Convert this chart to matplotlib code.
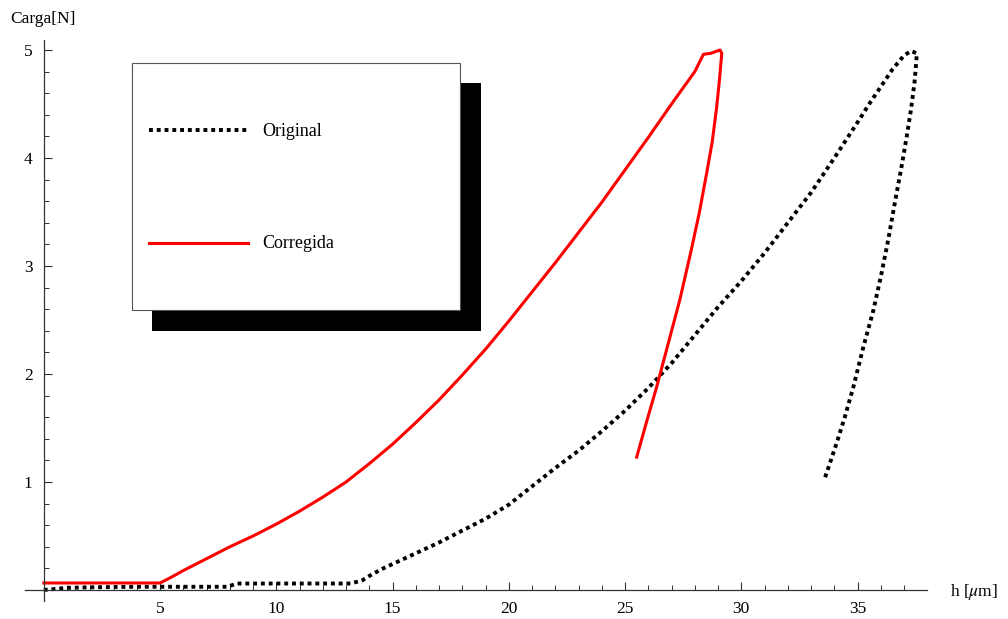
import matplotlib
matplotlib.use("Agg")
import matplotlib.pyplot as plt
from matplotlib.patches import Rectangle
from matplotlib.lines import Line2D
import numpy as np

plt.rcParams['font.family'] = ['Liberation Serif', 'DejaVu Serif']
plt.rcParams['mathtext.fontset'] = 'stix'

# Original (black dotted) - loading then unloading
orig_h = [0, 0.5, 1.0, 2, 4, 6, 7.9, 8.3, 10, 12, 13.2, 13.7, 14.0, 14.5, 15, 16, 17, 18,
          19, 20, 21, 22, 23, 24, 25, 26, 27, 28, 29, 30, 31, 32, 33, 34, 35, 35.5,
          36.0, 36.5, 37.0, 37.3, 37.55,
          37.52, 37.45, 37.3, 37.1, 36.9, 36.6, 36.3, 36.0, 35.68, 35.25, 34.82, 34.45,
          34.1, 33.6]
orig_f = [0.0, 0.01, 0.02, 0.025, 0.03, 0.03, 0.03, 0.06, 0.06, 0.06, 0.06, 0.09, 0.13, 0.19, 0.24,
          0.34, 0.44, 0.55, 0.66, 0.79, 0.96, 1.13, 1.29, 1.47, 1.66, 1.87, 2.10, 2.36,
          2.62, 2.86, 3.12, 3.40, 3.68, 4.00, 4.33, 4.50, 4.66, 4.82, 4.95, 4.99, 4.97,
          4.88, 4.70, 4.45, 4.18, 3.93, 3.58, 3.22, 2.90, 2.59, 2.25, 1.88, 1.60,
          1.36, 1.04]

# Corregida (red) - loading then unloading
corr_h = [0, 2, 4, 5.0, 5.5, 6, 7, 8, 9, 10, 11, 12, 13, 14, 15, 16, 17, 18, 19, 20,
          21, 22, 23, 24, 25, 26, 27, 28, 28.37, 28.7, 29.08,
          29.16, 29.05, 28.94, 28.75, 28.51, 28.2, 27.85, 27.36, 26.78, 26.36, 25.93, 25.5]
corr_f = [0.065, 0.065, 0.065, 0.065, 0.12, 0.18, 0.29, 0.40, 0.50, 0.61, 0.73, 0.86,
          1.00, 1.17, 1.35, 1.55, 1.76, 1.99, 2.23, 2.49, 2.76, 3.03, 3.31, 3.59, 3.89,
          4.19, 4.50, 4.80, 4.96, 4.97, 5.0,
          4.97, 4.70, 4.47, 4.15, 3.86, 3.50, 3.15, 2.69, 2.22, 1.88, 1.56, 1.23]

x_ticks = [5, 10, 15, 20, 25, 30, 35]
y_ticks = [1, 2, 3, 4, 5]
series_labels = ["Original", "Corregida"]

W, H = 1008, 619
fig = plt.figure(figsize=(W / 100, H / 100), dpi=100)

def fx(px):
    return px / W

def fy(py):
    return 1 - py / H

xmin, xmax = -0.8, 38.0
ymin, ymax = -0.1, 5.09
left_px = 43.8 + xmin * 23.25
right_px = 43.8 + xmax * 23.25
top_px = 590 - ymax * 108
bot_px = 590 - ymin * 108
ax = fig.add_axes([fx(left_px), fy(bot_px), fx(right_px) - fx(left_px), fy(top_px) - fy(bot_px)])
ax.set_xlim(xmin, xmax)
ax.set_ylim(ymin, ymax)

ax.plot(orig_h, orig_f, color='black', lw=2.8, linestyle=(0, (1, 1)), solid_joinstyle='round')
ax.plot(corr_h, corr_f, color='red', lw=2.2, solid_joinstyle='round')

for s in ['top', 'right']:
    ax.spines[s].set_visible(False)
ax.spines['left'].set_position(('data', 0))
ax.spines['bottom'].set_position(('data', 0))
for s in ['left', 'bottom']:
    ax.spines[s].set_color('#333333')
    ax.spines[s].set_linewidth(0.9)

ax.set_xticks(x_ticks)
ax.set_yticks(y_ticks)
ax.set_xticks(np.arange(1, 38, 1), minor=True)
ax.set_yticks(np.arange(0.2, 5.01, 0.2), minor=True)
ax.tick_params(which='major', direction='in', length=6, width=0.8, color='#333333',
               labelsize=12.5, pad=8)
ax.tick_params(which='minor', direction='in', length=3.5, width=0.7, color='#333333')
ax.tick_params(axis='y', pad=8)

fig.text(fx(10), fy(19), "Carga[N]", fontsize=12.5, va='center', ha='left')
fig.text(fx(950), fy(592), r"h [$\mu$m]", fontsize=12.5, va='center', ha='left')

# legend with drop shadow
fig.add_artist(Rectangle((fx(152), fy(331)), fx(481) - fx(152), fy(83) - fy(331),
                         transform=fig.transFigure, facecolor='black', edgecolor='none', zorder=5))
fig.add_artist(Rectangle((fx(132), fy(310)), fx(460) - fx(132), fy(63) - fy(310),
                         transform=fig.transFigure, facecolor='white', edgecolor='#555555',
                         lw=0.8, zorder=6))
fig.add_artist(Line2D([fx(149), fx(248)], [fy(130), fy(130)], transform=fig.transFigure,
                      color='black', lw=2.8, linestyle=(0, (1, 1)), zorder=7))
fig.add_artist(Line2D([fx(149), fx(248)], [fy(243), fy(243)], transform=fig.transFigure,
                      color='red', lw=2.2, zorder=7))
fig.text(fx(262), fy(131), series_labels[0], fontsize=13, va='center', ha='left', zorder=8)
fig.text(fx(262), fy(244), series_labels[1], fontsize=13, va='center', ha='left', zorder=8)

fig.savefig("out.png", dpi=100)
